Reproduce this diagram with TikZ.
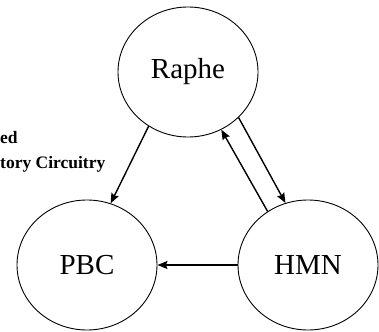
\documentclass[tikz,border=0pt]{standalone}
\usepackage{fontspec}
\setmainfont{Liberation Serif}
\usetikzlibrary{shapes.geometric,arrows.meta}
\tikzset{
  region/.style={ellipse,draw,line width=0.9pt,inner sep=0pt,minimum width=140pt,minimum height=130pt,font=\fontsize{29}{34}\selectfont},
  conn/.style={line width=1.4pt,-{Stealth[length=10pt,width=8pt,inset=1.5pt]}},
  caption/.style={anchor=base west,inner sep=0pt,font=\bfseries\fontsize{17.5}{21}\selectfont}
}
\begin{document}
\begin{tikzpicture}[x=1pt,y=-1pt]
\useasboundingbox (0,0) rectangle (379,331);
\node[region] (raphe) at (188,72) {Raphe};
\node[region] (pbc) at (87,265) {PBC};
\node[region] (hmn) at (308,265) {HMN};
\node[caption] (c1) at (0,143) {ed};
\node[caption] (c2) at (0,168) {tory Circuitry};
\draw[conn] (raphe.234.5) -- (pbc.69.6);
\draw[conn] (raphe.318) -- (hmn.110.4);
\draw[conn] (hmn.127) -- (raphe.300.4);
\draw[conn] (hmn.west) -- (pbc.east);
\end{tikzpicture}
\end{document}
